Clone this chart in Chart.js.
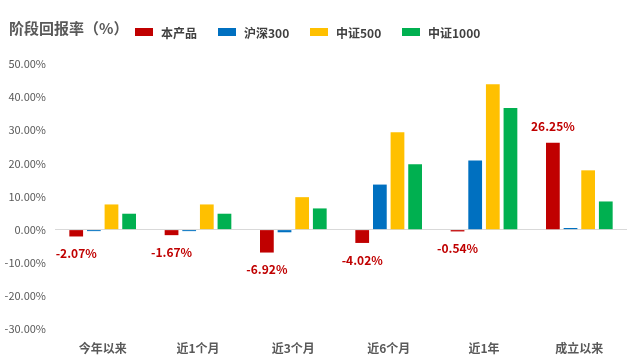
<!DOCTYPE html>
<html>
<head>
<meta charset="utf-8">
<script src="https://cdn.jsdelivr.net/npm/chart.js@4.4.1/dist/chart.umd.min.js"></script>
<style>
  html, body { margin: 0; padding: 0; background: #fff; }
  #wrap { width: 640px; height: 361px; position: relative; }
</style>
</head>
<body>
<div id="wrap"><canvas id="chart" width="640" height="361"></canvas></div>
<script>
const categories = ['今年以来', '近1个月', '近3个月', '近6个月', '近1年', '成立以来'];
const seriesNames = ['本产品', '沪深300', '中证500', '中证1000'];
const productValues = [-2.07, -1.67, -6.92, -4.02, -0.54, 26.25];
const hs300Values = [-0.45, -0.45, -0.8, 13.6, 20.9, 0.5];
const zz500Values = [7.6, 7.6, 9.8, 29.4, 43.9, 17.9];
const zz1000Values = [4.8, 4.8, 6.4, 19.7, 36.7, 8.5];
const yTicks = [50, 40, 30, 20, 10, 0, -10, -20, -30];
const colors = ['#C00000', '#0070C0', '#FFC000', '#00B050'];

const FONT = '"Noto Sans CJK SC", "Microsoft YaHei", sans-serif';

// title + legend drawn at the top, red labels on the product bars
const decorPlugin = {
    id: 'decor',
    afterDraw(chart) {
        const ctx = chart.ctx;
        ctx.save();
        ctx.textBaseline = 'middle';
        ctx.fillStyle = '#595959';
        ctx.font = 'bold 15px ' + FONT;
        ctx.textAlign = 'left';
        ctx.fillText('阶段回报率（%）', 9, 28);

        const legendX = [135, 218, 310, 402];
        ctx.font = 'bold 12px ' + FONT;
        chart.data.datasets.forEach((ds, i) => {
            ctx.fillStyle = ds.backgroundColor;
            ctx.fillRect(legendX[i], 28, 18, 8);
            ctx.fillStyle = '#404040';
            ctx.fillText(ds.label, legendX[i] + 26, 33);
        });

        const meta = chart.getDatasetMeta(0);
        ctx.font = 'bold 12px ' + FONT;
        ctx.fillStyle = '#C00000';
        ctx.textAlign = 'center';
        meta.data.forEach((bar, i) => {
            const v = productValues[i];
            const y = v < 0 ? bar.y + 17 : bar.y - 16;
            ctx.fillText(v.toFixed(2) + '%', bar.x, y);
        });
        ctx.restore();
    }
};

const allSeries = [productValues, hs300Values, zz500Values, zz1000Values];

new Chart(document.getElementById('chart').getContext('2d'), {
    type: 'bar',
    data: {
        labels: categories,
        datasets: allSeries.map((vals, i) => ({
            label: seriesNames[i],
            data: vals,
            backgroundColor: colors[i],
            categoryPercentage: 0.74,
            barPercentage: 0.78
        }))
    },
    options: {
        responsive: false,
        animation: false,
        layout: { padding: { top: 64, right: 13, left: 0, bottom: 0 } },
        plugins: {
            legend: { display: false },
            tooltip: { enabled: false }
        },
        scales: {
            x: {
                grid: { display: false, drawTicks: false },
                border: { display: false },
                ticks: {
                    padding: 12,
                    color: '#595959',
                    font: { family: FONT, size: 12, weight: 'bold' }
                },
                afterFit(scale) { scale.height = 32; }
            },
            y: {
                min: -30,
                max: 50,
                afterBuildTicks(scale) {
                    scale.ticks = yTicks.map(v => ({ value: v }));
                },
                grid: {
                    drawTicks: false,
                    color: ctx => ctx.tick && ctx.tick.value === 0 ? '#d9d9d9' : 'rgba(0,0,0,0)',
                    lineWidth: 1
                },
                border: { display: false },
                ticks: {
                    padding: 9,
                    color: '#595959',
                    font: { family: FONT, size: 11 },
                    callback: v => v.toFixed(2) + '%'
                },
                afterFit(scale) { scale.width = 55; }
            }
        }
    },
    plugins: [decorPlugin]
});
</script>
</body>
</html>
